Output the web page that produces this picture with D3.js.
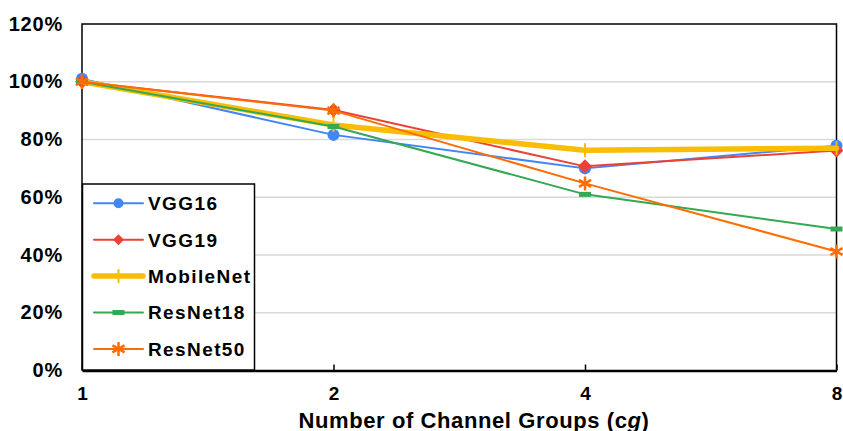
<!DOCTYPE html>
<html>
<head>
<meta charset="utf-8">
<script src="https://cdn.jsdelivr.net/npm/d3@7"></script>
<style>
  html, body { margin: 0; padding: 0; background: #fff; }
  svg { display: block; font-family: "Liberation Sans", Arial, sans-serif; }
</style>
</head>
<body>
<svg id="chart" width="843" height="431"></svg>
<script>
// Channel group counts on the x axis
const groups = [1, 2, 4, 8];
const yTicks = [0, 0.2, 0.4, 0.6, 0.8, 1.0, 1.2];

// Normalized accuracy per network
const vgg16     = [1.01, 0.816, 0.700, 0.778];
const vgg19     = [1.00, 0.902, 0.707, 0.762];
const mobileNet = [1.00, 0.850, 0.763, 0.770];
const resNet18  = [1.00, 0.845, 0.610, 0.490];
const resNet50  = [1.00, 0.900, 0.648, 0.412];

const seriesNames  = ["VGG16", "VGG19", "MobileNet", "ResNet18", "ResNet50"];
const seriesValues = [vgg16, vgg19, mobileNet, resNet18, resNet50];
const seriesColors = ["#4285F4", "#EA4335", "#FBBC04", "#34A853", "#FF6D01"];
const seriesWidths = [2, 2, 5.5, 2, 2];
const seriesMarks  = ["circle", "diamond", "plus", "dash", "star"];

const svg = d3.select("#chart");
const plotLeft = 82, plotRight = 836.5, plotTop = 24, plotBottom = 370.5;

const x = d3.scaleLog().base(2).domain([1, 8]).range([plotLeft, plotRight]);
const y = d3.scaleLinear().domain([0, 1.2]).range([plotBottom, plotTop]);

// Horizontal gridlines
svg.append("g").selectAll("line")
  .data(yTicks.filter(t => t > 0 && t < 1.2))
  .join("line")
  .attr("x1", plotLeft).attr("x2", plotRight)
  .attr("y1", d => y(d)).attr("y2", d => y(d))
  .attr("stroke", "#d9d9d9").attr("stroke-width", 1.5);

// Plot frame (left, top, right)
svg.append("path")
  .attr("d", `M${plotLeft},${plotBottom}V${plotTop}H${plotRight}V${plotBottom}`)
  .attr("fill", "none").attr("stroke", "#000").attr("stroke-width", 1.5);

// Y axis labels
svg.append("g").selectAll("text")
  .data(yTicks)
  .join("text")
  .attr("x", 63).attr("y", d => y(d) + 6.5)
  .attr("text-anchor", "end")
  .attr("font-size", 20).attr("font-weight", "bold")
  .attr("letter-spacing", 0.8)
  .text(d => d3.format(".0%")(d));

// X axis
const xAxis = d3.axisBottom(x).tickValues(groups).tickFormat(d3.format("d"))
  .tickSizeInner(-6).tickSizeOuter(0);
const gx = svg.append("g").attr("transform", `translate(0,${plotBottom})`).call(xAxis);
gx.select(".domain").attr("stroke", "#000").attr("stroke-width", 2.5);
gx.selectAll(".tick line").attr("stroke", "#000").attr("stroke-width", 1.5);
gx.selectAll(".tick text")
  .attr("y", 29.5).attr("dy", null)
  .attr("font-size", 19).attr("font-weight", "bold").attr("fill", "#000")
  .attr("font-family", "Liberation Sans, Arial, sans-serif");

// Axis title
const title = svg.append("text")
  .attr("x", 474).attr("y", 427.5)
  .attr("text-anchor", "middle")
  .attr("font-size", 22).attr("font-weight", "bold")
  .attr("letter-spacing", 0.6);
title.append("tspan").text("Number of Channel Groups (c");
title.append("tspan").attr("font-style", "italic").text("g");
title.append("tspan").text(")");

// Marker drawing
function drawMarker(g, type, color, cx, cy, legend) {
  if (type === "circle") {
    g.append("circle").attr("cx", cx).attr("cy", cy).attr("r", legend ? 5 : 6).attr("fill", color);
  } else if (type === "diamond") {
    const s = legend ? 5.5 : 7;
    g.append("path").attr("d", `M${cx},${cy - s}L${cx + s},${cy}L${cx},${cy + s}L${cx - s},${cy}Z`).attr("fill", color);
  } else if (type === "plus") {
    g.append("line").attr("x1", cx).attr("x2", cx).attr("y1", cy - 7).attr("y2", cy + 7)
      .attr("stroke", color).attr("stroke-width", 2);
  } else if (type === "dash") {
    g.append("rect").attr("x", cx - 6).attr("y", cy - 2.5).attr("width", 12).attr("height", 5).attr("fill", color);
  } else if (type === "star") {
    const r = 7;
    const p = d3.path();
    [0, 60, 120].forEach(a => {
      const t = (a + 90) * Math.PI / 180;
      p.moveTo(cx + r * Math.cos(t), cy + r * Math.sin(t));
      p.lineTo(cx - r * Math.cos(t), cy - r * Math.sin(t));
    });
    g.append("path").attr("d", p.toString()).attr("stroke", color).attr("stroke-width", 2.5).attr("fill", "none");
  }
}

const line = d3.line()
  .x((d, i) => x(groups[i]))
  .y(d => y(d));

// Series lines and markers
seriesValues.forEach((vals, k) => {
  const g = svg.append("g");
  g.append("path").datum(vals).attr("d", line)
    .attr("fill", "none").attr("stroke", seriesColors[k])
    .attr("stroke-width", seriesWidths[k])
    .attr("stroke-linecap", "round").attr("stroke-linejoin", "round");
  vals.forEach((v, i) => drawMarker(g, seriesMarks[k], seriesColors[k], x(groups[i]), y(v), false));
});

// Legend
const lg = svg.append("g");
lg.append("rect").attr("x", 82.5).attr("y", 184).attr("width", 172).attr("height", 186)
  .attr("fill", "#fff").attr("stroke", "#000").attr("stroke-width", 1.5);
seriesNames.forEach((name, k) => {
  const cy = 203.3 + k * 36.4;
  lg.append("line").attr("x1", 94).attr("x2", 143).attr("y1", cy).attr("y2", cy)
    .attr("stroke", seriesColors[k]).attr("stroke-width", seriesWidths[k]).attr("stroke-linecap", "round");
  drawMarker(lg, seriesMarks[k], seriesColors[k], 118.5, cy, true);
  lg.append("text").attr("x", 148).attr("y", cy + 6.8)
    .attr("font-size", 19).attr("font-weight", "bold")
    .attr("letter-spacing", 1.4).text(name);
});
</script>
</body>
</html>
